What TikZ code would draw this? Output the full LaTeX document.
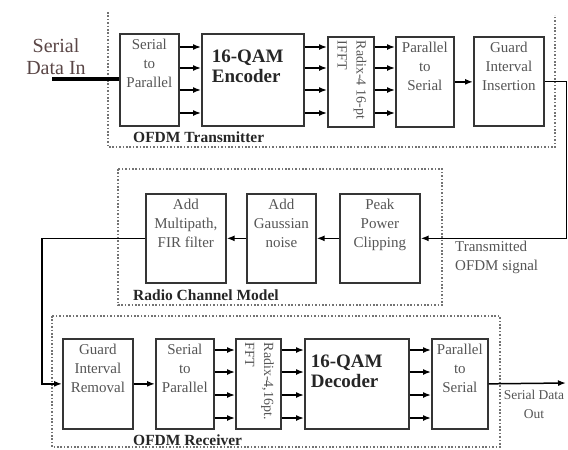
\documentclass[tikz,border=0pt]{standalone}
\usepackage{fontspec}
\setmainfont{Liberation Serif}
\usetikzlibrary{arrows.meta}
\definecolor{boxline}{HTML}{353535}
\definecolor{boxtext}{HTML}{555555}
\definecolor{inktext}{HTML}{5A4646}
% text of a block: width, height, lines (top aligned)
\newcommand{\blocktext}[3]{\parbox[c][#2pt][t]{#1pt}{\centering\vspace*{5pt}#3}}
% bold QAM text: width, height, indent, lines
\newcommand{\qamtext}[4]{\parbox[c][#2pt][t]{#1pt}{\raggedright\leftskip=#3pt\vspace*{16pt}\bfseries\fontsize{19}{20}\selectfont\color{black!85}#4}}
% rotated FFT text: width, height, lines
\newcommand{\ffttext}[3]{\parbox[c][#2pt][t]{#1pt}{\centering\vspace*{4pt}\fontsize{14}{19}\selectfont\rotatebox{-90}{\begin{tabular}{@{}l@{}}#3\end{tabular}}}}
\tikzset{
  blk/.style={draw=boxline, line width=1.7pt, inner sep=0pt, anchor=north west, font=\fontsize{15}{19}\selectfont, text=boxtext},
  link/.style={line width=1.5pt, -{Latex[length=8pt,width=6pt]}},
  frame/.style={draw=black!55, line width=1.4pt, dash pattern=on 1.6pt off 1.8pt},
  tag/.style={anchor=west, inner sep=0pt, font=\bfseries\fontsize{15.5}{17}\selectfont, text=black!85},
  note/.style={inner sep=0pt, font=\fontsize{15}{19}\selectfont, text=boxtext}
}
\begin{document}
\begin{tikzpicture}[x=1pt, y=-1pt]
	\useasboundingbox (0,0) rectangle (568,450);
	% dotted frames
	\draw[frame] (108,12) -- (108,147) -- (555,147) -- (555,15);
	\draw[frame] (118,169) rectangle (442,305);
	\draw[frame] (52,316) rectangle (500,447);
	\node[tag] (txtag) at (133,137) {OFDM Transmitter};
	\node[tag] (chtag) at (133,295) {Radio Channel Model};
	\node[tag] (rxtag) at (133,440) {OFDM Receiver};

	% transmitter
	\node[blk] (tsp) at (119,33) {\blocktext{59}{92}{Serial\\to\\Parallel}};
	\node[blk] (enc) at (201,33) {\qamtext{102}{92}{10}{16-QAM\\Encoder}};
	\node[blk] (ifft) at (327,36) {\ffttext{46}{90}{Radix-4 16-pt\\IFFT}};
	\node[blk] (tps) at (395,36) {\blocktext{58}{90}{Parallel\\to\\Serial}};
	\node[blk] (gii) at (473,36) {\blocktext{70}{89}{Guard\\Interval\\Insertion}};

	% channel
	\node[blk] (ppc) at (339,193) {\blocktext{80}{89}{Peak\\Power\\Clipping}};
	\node[blk] (agn) at (246,193) {\blocktext{69}{89}{Add\\Gaussian\\noise}};
	\node[blk] (amf) at (145,193) {\blocktext{80}{89}{Add\\Multipath,\\FIR filter}};

	% receiver
	\node[blk] (gir) at (62,338) {\blocktext{70}{90}{Guard\\Interval\\Removal}};
	\node[blk] (rsp) at (155,338) {\blocktext{58}{90}{Serial\\to\\Parallel}};
	\node[blk] (fft) at (235,338) {\ffttext{45}{90}{Radix-4,16pt.\\FFT}};
	\node[blk] (dec) at (304,338) {\qamtext{104}{90}{6}{16-QAM\\Decoder}};
	\node[blk] (rps) at (431,338) {\blocktext{56}{90}{Parallel\\to\\Serial}};

	% labels
	\node[inner sep=0pt, align=center, font=\fontsize{20}{22}\selectfont, text=inktext] (sdin) at (56,57) {Serial\\Data In};
	\node[note, anchor=north west, align=left] (txsig) at (455,241) {Transmitted\\OFDM signal};
	\node[note, anchor=north, align=center, font=\fontsize{13.5}{19}\selectfont] (sdout) at (534,390) {Serial Data\\Out};

	% connectors
	\coordinate (srcin) at (52,79);
	\draw[line width=3.5pt] (srcin) -- (srcin -| tsp.west);
	\foreach \yy in {47,68,90,113}{
		\draw[link] (tsp.east |- 0,\yy) -- (enc.west |- 0,\yy);
		\draw[link] (enc.east |- 0,\yy) -- (ifft.west |- 0,\yy);
		\draw[link] (ifft.east |- 0,\yy) -- (tps.west |- 0,\yy);
	}
	\draw[link] (tps.east) -- (tps.east -| gii.west);
	\draw[link] (gii.east) -- ++(22,0) |- (ppc.east);
	\draw[link] (ppc.west) -- (agn.east);
	\draw[link] (agn.west) -- (amf.east);
	\draw[link] (amf.west) -- ++(-103,0) |- (gir.west);
	\draw[link] (gir.east) -- (rsp.west);
	\foreach \yy in {350,372,395,418}{
		\draw[link] (rsp.east |- 0,\yy) -- (fft.west |- 0,\yy);
		\draw[link] (fft.east |- 0,\yy) -- (dec.west |- 0,\yy);
		\draw[link] (dec.east |- 0,\yy) -- (rps.west |- 0,\yy);
	}
	\coordinate (sinkout) at (566,383);
	\draw[link] (rps.east) -- (sinkout);
\end{tikzpicture}
\end{document}
